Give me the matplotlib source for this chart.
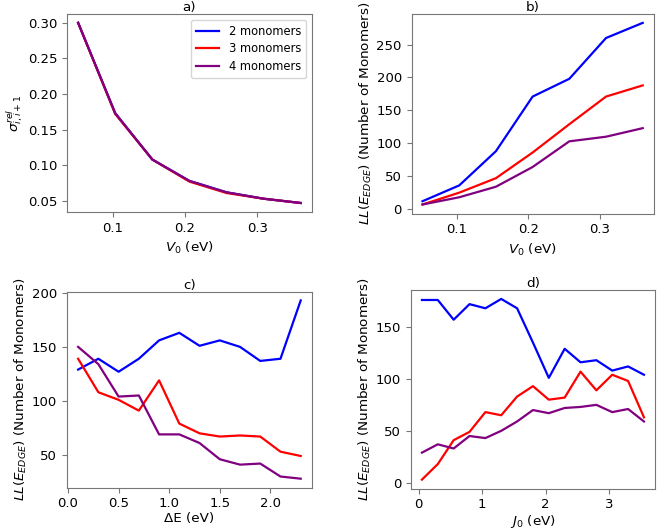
import numpy as np
import matplotlib
matplotlib.use("Agg")
import matplotlib.pyplot as plt

# panel a/b: coupling strength V0
v0 = [0.0515, 0.103, 0.1545, 0.206, 0.2575, 0.309, 0.3605]
sigma_2 = [0.300, 0.173, 0.108, 0.078, 0.062, 0.053, 0.047]
sigma_3 = [0.300, 0.172, 0.108, 0.077, 0.061, 0.053, 0.047]
sigma_4 = [0.300, 0.173, 0.108, 0.078, 0.062, 0.053, 0.047]

ll_v0_2 = [12, 36, 88, 171, 198, 260, 283]
ll_v0_3 = [7, 25, 47, 86, 129, 171, 188]
ll_v0_4 = [7, 18, 34, 64, 103, 110, 123]

# panel c: energy gap dE
de = [0.1, 0.3, 0.5, 0.7, 0.9, 1.1, 1.3, 1.5, 1.7, 1.9, 2.1, 2.3]
ll_de_2 = [129, 139, 127, 139, 156, 163, 151, 156, 150, 137, 139, 193]
ll_de_3 = [139, 108, 101, 91, 119, 79, 70, 67, 68, 67, 53, 49]
ll_de_4 = [150, 134, 104, 105, 69, 69, 61, 46, 41, 42, 30, 28]

# panel d: J0
j0 = [0.05, 0.3, 0.55, 0.8, 1.05, 1.3, 1.55, 1.8, 2.05, 2.3, 2.55, 2.8, 3.05, 3.3, 3.55]
ll_j0_2 = [176, 176, 157, 172, 168, 177, 168, 135, 101, 129, 116, 118, 108, 112, 104]
ll_j0_3 = [3, 18, 41, 49, 68, 65, 83, 93, 80, 82, 107, 89, 104, 98, 63]
ll_j0_4 = [29, 37, 33, 45, 43, 50, 59, 70, 67, 72, 73, 75, 68, 71, 59]

labels = ["2 monomers", "3 monomers", "4 monomers"]
colors = ["blue", "red", "purple"]

plt.rcParams["font.size"] = 9.7
plt.rcParams["xtick.labelsize"] = 9.5
plt.rcParams["ytick.labelsize"] = 9.5
plt.rcParams["axes.edgecolor"] = "#777777"
plt.rcParams["xtick.color"] = "#777777"
plt.rcParams["ytick.color"] = "#777777"
plt.rcParams["xtick.labelcolor"] = "black"
plt.rcParams["ytick.labelcolor"] = "black"

fig = plt.figure(figsize=(6.6, 5.3), dpi=100)
ax_a = fig.add_axes([0.1015, 0.600, 0.371, 0.374])
ax_b = fig.add_axes([0.6235, 0.597, 0.367, 0.377])
ax_c = fig.add_axes([0.1015, 0.080, 0.371, 0.370])
ax_d = fig.add_axes([0.6225, 0.078, 0.370, 0.375])

ll_label = r"$LL(E_{EDGE})$ (Number of Monomers)"

for ys, c, lab in zip([sigma_2, sigma_3, sigma_4], colors, labels):
    ax_a.plot(v0, ys, color=c, lw=1.6, label=lab)
ax_a.set_title("a)", fontsize=9.7, pad=2)
ax_a.set_xlabel(r"$V_0$ (eV)")
ax_a.set_ylabel(r"$\sigma^{rel}_{i,i+1}$", labelpad=2)
ax_a.set_yticks([0.05, 0.10, 0.15, 0.20, 0.25, 0.30])
ax_a.set_xticks([0.1, 0.2, 0.3])
ax_a.legend(loc="upper right", fontsize=8.3, handlelength=2.0, borderpad=0.45, labelspacing=0.4)

for ys, c in zip([ll_v0_2, ll_v0_3, ll_v0_4], colors):
    ax_b.plot(v0, ys, color=c, lw=1.6)
ax_b.set_title("b)", fontsize=9.7, pad=2)
ax_b.set_xlabel(r"$V_0$ (eV)")
ax_b.set_ylabel(ll_label, labelpad=2)
ax_b.set_xticks([0.1, 0.2, 0.3])
ax_b.set_yticks([0, 50, 100, 150, 200, 250])

for ys, c in zip([ll_de_2, ll_de_3, ll_de_4], colors):
    ax_c.plot(de, ys, color=c, lw=1.6)
ax_c.set_title("c)", fontsize=9.7, pad=2)
ax_c.set_xlabel("ΔE (eV)", labelpad=1)
ax_c.set_ylabel(ll_label, labelpad=2)
ax_c.set_xticks([0.0, 0.5, 1.0, 1.5, 2.0])
ax_c.set_yticks([50, 100, 150, 200])

for ys, c in zip([ll_j0_2, ll_j0_3, ll_j0_4], colors):
    ax_d.plot(j0, ys, color=c, lw=1.6)
ax_d.set_title("d)", fontsize=9.7, pad=2)
ax_d.set_xlabel(r"$J_0$ (eV)", labelpad=1)
ax_d.set_ylabel(ll_label, labelpad=2)
ax_d.set_xticks([0, 1, 2, 3])
ax_d.set_yticks([0, 50, 100, 150])

plt.savefig("out.png", dpi=100)
plt.close()
